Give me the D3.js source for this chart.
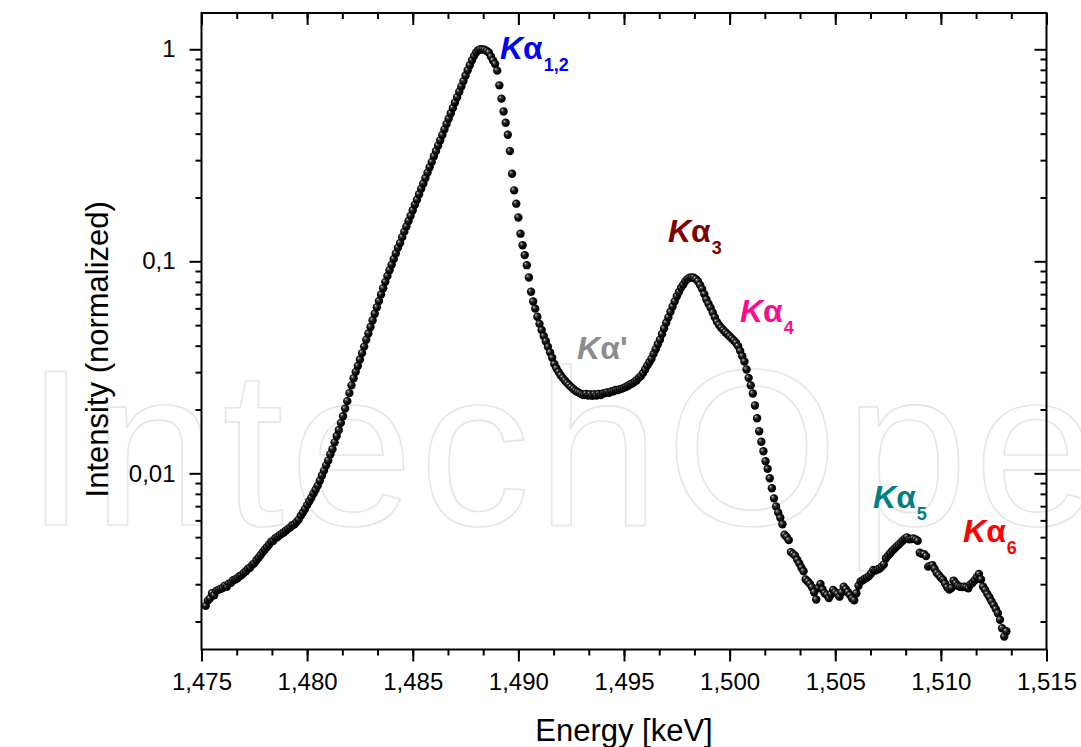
<!DOCTYPE html>
<html>
<head>
<meta charset="utf-8">
<script src="https://cdn.jsdelivr.net/npm/d3@7"></script>
<style>
  html, body { margin: 0; padding: 0; background: #fff; }
  svg { display: block; font-family: "Liberation Sans", Arial, sans-serif; }
</style>
</head>
<body>
<div id="chart"></div>
<script>
// energy in keV, one reading every 0.1 eV
const energy = [
  1.4752, 1.4753, 1.4754, 1.4755, 1.4756, 1.4757, 1.4758, 1.4759, 1.4760, 1.4761,
  1.4762, 1.4763, 1.4764, 1.4765, 1.4766, 1.4767, 1.4768, 1.4769, 1.4770, 1.4771,
  1.4772, 1.4773, 1.4774, 1.4775, 1.4776, 1.4777, 1.4778, 1.4779, 1.4780, 1.4781,
  1.4782, 1.4783, 1.4784, 1.4785, 1.4786, 1.4787, 1.4788, 1.4789, 1.4790, 1.4791,
  1.4792, 1.4793, 1.4794, 1.4795, 1.4796, 1.4797, 1.4798, 1.4799, 1.4800, 1.4801,
  1.4802, 1.4803, 1.4804, 1.4805, 1.4806, 1.4807, 1.4808, 1.4809, 1.4810, 1.4811,
  1.4812, 1.4813, 1.4814, 1.4815, 1.4816, 1.4817, 1.4818, 1.4819, 1.4820, 1.4821,
  1.4822, 1.4823, 1.4824, 1.4825, 1.4826, 1.4827, 1.4828, 1.4829, 1.4830, 1.4831,
  1.4832, 1.4833, 1.4834, 1.4835, 1.4836, 1.4837, 1.4838, 1.4839, 1.4840, 1.4841,
  1.4842, 1.4843, 1.4844, 1.4845, 1.4846, 1.4847, 1.4848, 1.4849, 1.4850, 1.4851,
  1.4852, 1.4853, 1.4854, 1.4855, 1.4856, 1.4857, 1.4858, 1.4859, 1.4860, 1.4861,
  1.4862, 1.4863, 1.4864, 1.4865, 1.4866, 1.4867, 1.4868, 1.4869, 1.4870, 1.4871,
  1.4872, 1.4873, 1.4874, 1.4875, 1.4876, 1.4877, 1.4878, 1.4879, 1.4880, 1.4881,
  1.4882, 1.4883, 1.4884, 1.4885, 1.4886, 1.4887, 1.4888, 1.4889, 1.4890, 1.4891,
  1.4892, 1.4893, 1.4894, 1.4895, 1.4896, 1.4897, 1.4898, 1.4899, 1.4900, 1.4901,
  1.4902, 1.4903, 1.4904, 1.4905, 1.4906, 1.4907, 1.4908, 1.4909, 1.4910, 1.4911,
  1.4912, 1.4913, 1.4914, 1.4915, 1.4916, 1.4917, 1.4918, 1.4919, 1.4920, 1.4921,
  1.4922, 1.4923, 1.4924, 1.4925, 1.4926, 1.4927, 1.4928, 1.4929, 1.4930, 1.4931,
  1.4932, 1.4933, 1.4934, 1.4935, 1.4936, 1.4937, 1.4938, 1.4939, 1.4940, 1.4941,
  1.4942, 1.4943, 1.4944, 1.4945, 1.4946, 1.4947, 1.4948, 1.4949, 1.4950, 1.4951,
  1.4952, 1.4953, 1.4954, 1.4955, 1.4956, 1.4957, 1.4958, 1.4959, 1.4960, 1.4961,
  1.4962, 1.4963, 1.4964, 1.4965, 1.4966, 1.4967, 1.4968, 1.4969, 1.4970, 1.4971,
  1.4972, 1.4973, 1.4974, 1.4975, 1.4976, 1.4977, 1.4978, 1.4979, 1.4980, 1.4981,
  1.4982, 1.4983, 1.4984, 1.4985, 1.4986, 1.4987, 1.4988, 1.4989, 1.4990, 1.4991,
  1.4992, 1.4993, 1.4994, 1.4995, 1.4996, 1.4997, 1.4998, 1.4999, 1.5000, 1.5001,
  1.5002, 1.5003, 1.5004, 1.5005, 1.5006, 1.5007, 1.5008, 1.5009, 1.5010, 1.5011,
  1.5012, 1.5013, 1.5014, 1.5015, 1.5016, 1.5017, 1.5018, 1.5019, 1.5020, 1.5021,
  1.5022, 1.5023, 1.5024, 1.5025, 1.5026, 1.5027, 1.5028, 1.5029, 1.5030, 1.5031,
  1.5032, 1.5033, 1.5034, 1.5035, 1.5036, 1.5037, 1.5038, 1.5039, 1.5040, 1.5041,
  1.5042, 1.5043, 1.5044, 1.5045, 1.5046, 1.5047, 1.5048, 1.5049, 1.5050, 1.5051,
  1.5052, 1.5053, 1.5054, 1.5055, 1.5056, 1.5057, 1.5058, 1.5059, 1.5060, 1.5061,
  1.5062, 1.5063, 1.5064, 1.5065, 1.5066, 1.5067, 1.5068, 1.5069, 1.5070, 1.5071,
  1.5072, 1.5073, 1.5074, 1.5075, 1.5076, 1.5077, 1.5078, 1.5079, 1.5080, 1.5081,
  1.5082, 1.5083, 1.5084, 1.5085, 1.5086, 1.5087, 1.5088, 1.5089, 1.5090, 1.5091,
  1.5092, 1.5093, 1.5094, 1.5095, 1.5096, 1.5097, 1.5098, 1.5099, 1.5100, 1.5101,
  1.5102, 1.5103, 1.5104, 1.5105, 1.5106, 1.5107, 1.5108, 1.5109, 1.5110, 1.5111,
  1.5112, 1.5113, 1.5114, 1.5115, 1.5116, 1.5117, 1.5118, 1.5119, 1.5120, 1.5121,
  1.5122, 1.5123, 1.5124, 1.5125, 1.5126, 1.5127, 1.5128, 1.5129, 1.5130, 1.5131
];

// normalized intensity, same order as energy
const intensity = [
  0.00237, 0.00251, 0.00257, 0.00272, 0.00266, 0.00279, 0.00282, 0.00285, 0.00288, 0.00295,
  0.00292, 0.00302, 0.00305, 0.00313, 0.00316, 0.00320, 0.00327, 0.00331, 0.00339, 0.00345,
  0.00355, 0.00359, 0.00370, 0.00376, 0.00389, 0.00400, 0.00412, 0.00425, 0.00437, 0.00449,
  0.00462, 0.00476, 0.00481, 0.00495, 0.00501, 0.00511, 0.00519, 0.00527, 0.00537, 0.00547,
  0.00556, 0.00569, 0.00575, 0.00589, 0.00605, 0.00631, 0.00653, 0.00679, 0.00708, 0.00738,
  0.00767, 0.00804, 0.00836, 0.00875, 0.00923, 0.00977, 0.0103, 0.0109, 0.0115, 0.0123,
  0.0130, 0.0140, 0.0150, 0.0160, 0.0173, 0.0186, 0.0202, 0.0219, 0.0239, 0.0260,
  0.0281, 0.0301, 0.0321, 0.0344, 0.0369, 0.0396, 0.0427, 0.0457, 0.0490, 0.0527,
  0.0566, 0.0607, 0.0650, 0.0697, 0.0746, 0.0800, 0.0853, 0.0908, 0.0964, 0.1026,
  0.109, 0.116, 0.122, 0.130, 0.138, 0.146, 0.155, 0.164, 0.174, 0.185,
  0.195, 0.207, 0.220, 0.233, 0.247, 0.262, 0.278, 0.294, 0.313, 0.331,
  0.351, 0.372, 0.394, 0.419, 0.444, 0.470, 0.499, 0.528, 0.561, 0.594,
  0.631, 0.668, 0.708, 0.752, 0.796, 0.841, 0.887, 0.929, 0.966, 0.989,
  1.000, 0.998, 0.995, 0.982, 0.966, 0.925, 0.885, 0.853, 0.793, 0.676,
  0.585, 0.509, 0.450, 0.395, 0.331, 0.259, 0.216, 0.187, 0.161, 0.135,
  0.119, 0.107, 0.0959, 0.0839, 0.0719, 0.0646, 0.0598, 0.0548, 0.0507, 0.0474,
  0.0444, 0.0420, 0.0395, 0.0372, 0.0351, 0.0328, 0.0313, 0.0301, 0.0290, 0.0282,
  0.0274, 0.0267, 0.0261, 0.0255, 0.0250, 0.0245, 0.0242, 0.0239, 0.0236, 0.0234,
  0.0237, 0.0233, 0.0236, 0.0232, 0.0236, 0.0233, 0.0237, 0.0234, 0.0238, 0.0239,
  0.0241, 0.0240, 0.0243, 0.0244, 0.0247, 0.0247, 0.0249, 0.0251, 0.0253, 0.0256,
  0.0259, 0.0263, 0.0266, 0.0270, 0.0275, 0.0282, 0.0288, 0.0297, 0.0309, 0.0322,
  0.0334, 0.0347, 0.0366, 0.0385, 0.0406, 0.0427, 0.0454, 0.0482, 0.0513, 0.0544,
  0.0578, 0.0612, 0.0647, 0.0684, 0.0716, 0.0750, 0.0776, 0.0804, 0.0824, 0.0836,
  0.0839, 0.0837, 0.0824, 0.0805, 0.0773, 0.0741, 0.0700, 0.0661, 0.0631, 0.0604,
  0.0573, 0.0545, 0.0518, 0.0501, 0.0486, 0.0474, 0.0463, 0.0453, 0.0443, 0.0433,
  0.0423, 0.0413, 0.0398, 0.0378, 0.0357, 0.0337, 0.0309, 0.0282, 0.0260, 0.0238,
  0.0209, 0.0182, 0.0158, 0.0141, 0.0127, 0.0114, 0.0105, 0.00948, 0.00851, 0.00762,
  0.00698, 0.00653, 0.00617, 0.00575, 0.00513, 0.00501, 0.00484, 0.00425, 0.00417, 0.00409,
  0.00391, 0.00376, 0.00359, 0.00345, 0.00316, 0.00309, 0.00301, 0.00290, 0.00275, 0.00254,
  0.00288, 0.00301, 0.00283, 0.00272, 0.00267, 0.00258, 0.00269, 0.00282, 0.00275, 0.00270,
  0.00262, 0.00275, 0.00292, 0.00284, 0.00275, 0.00267, 0.00257, 0.00252, 0.00272, 0.00295,
  0.00309, 0.00313, 0.00318, 0.00322, 0.00328, 0.00337, 0.00350, 0.00348, 0.00352, 0.00356,
  0.00363, 0.00372, 0.00398, 0.00409, 0.00420, 0.00431, 0.00441, 0.00451, 0.00460, 0.00471,
  0.00482, 0.00492, 0.00499, 0.00488, 0.00490, 0.00493, 0.00488, 0.00481, 0.00422, 0.00417,
  0.00416, 0.00407, 0.00363, 0.00366, 0.00369, 0.00355, 0.00340, 0.00331, 0.00322, 0.00315,
  0.00302, 0.00290, 0.00283, 0.00288, 0.00312, 0.00303, 0.00295, 0.00292, 0.00291, 0.00292,
  0.00290, 0.00287, 0.00299, 0.00305, 0.00313, 0.00324, 0.00335, 0.00316, 0.00292, 0.00282,
  0.00270, 0.00260, 0.00249, 0.00239, 0.00229, 0.00219, 0.00204, 0.00186, 0.00170, 0.00180
];

const xTicks = [1.475, 1.48, 1.485, 1.49, 1.495, 1.5, 1.505, 1.51, 1.515];
const xTickLabels = ["1,475", "1,480", "1,485", "1,490", "1,495", "1,500", "1,505", "1,510", "1,515"];
const yTicks = [0.01, 0.1, 1];
const yTickLabels = ["0,01", "0,1", "1"];

// peak annotations: name, subscript, colour, anchor energy / intensity
const peakNames = ["Kα", "Kα", "Kα", "Kα'", "Kα", "Kα"];
const peakSubs = ["1,2", "3", "4", "", "5", "6"];
const peakColors = ["#0000ff", "#800000", "#ff0a8c", "#8c8c8c", "#008080", "#ff0000"];
const peakEnergy = [1.48913, 1.49708, 1.50049, 1.49278, 1.50679, 1.51105];
const peakIntensity = [0.90, 0.1233, 0.0517, 0.0346, 0.00686, 0.00474];

const W = 1081, H = 747;
const margin = { top: 13, right: 34.5, bottom: 97.5, left: 201.5 };

const svg = d3.select("#chart").append("svg")
  .attr("width", W).attr("height", H);

const defs = svg.append("defs");
const grad = defs.append("radialGradient")
  .attr("id", "ball")
  .attr("cx", "45%").attr("cy", "45%").attr("r", "55%")
  .attr("fx", "32%").attr("fy", "30%");
grad.append("stop").attr("offset", "0%").attr("stop-color", "#d8d8d8");
grad.append("stop").attr("offset", "22%").attr("stop-color", "#555");
grad.append("stop").attr("offset", "55%").attr("stop-color", "#0c0c0c");
grad.append("stop").attr("offset", "100%").attr("stop-color", "#000");

const x = d3.scaleLinear()
  .domain([1.475, 1.515])
  .range([margin.left, W - margin.right]);

const y = d3.scaleLog()
  .domain([0.001476, 1.483])
  .range([H - margin.bottom, margin.top]);

const x0 = margin.left, x1 = W - margin.right;
const y0 = H - margin.bottom, y1 = margin.top;

// faint watermark behind the plot
svg.append("text")
  .attr("x", 25).attr("y", 525)
  .attr("font-size", 222)
  .attr("letter-spacing", 6)
  .attr("fill", "none")
  .attr("stroke", "#e6e6e6")
  .attr("stroke-width", 1.6)
  .text("IntechOpen");

// data points
const points = energy.map((e, i) => ({ e, v: intensity[i] }));
svg.append("g")
  .selectAll("circle")
  .data(points)
  .join("circle")
  .attr("cx", d => x(d.e))
  .attr("cy", d => y(d.v))
  .attr("r", 4.2)
  .attr("fill", "url(#ball)");

// ticks
const minorX = d3.range(0, 25).map(k => 1.475 + k * 0.005 / 3).filter(v => v < 1.5151);
const minorY = [];
[0.001, 0.01, 0.1, 1].forEach(dec => {
  for (let k = 2; k <= 9; k++) {
    const v = dec * k;
    if (v > 0.001476 && v < 1.483) minorY.push(v);
  }
});

function styleAxis(g) {
  g.select(".domain").remove();
  g.selectAll("line").attr("stroke", "#000").attr("stroke-width", 2);
  g.selectAll("text").attr("fill", "#000").attr("font-size", 24)
    .attr("font-family", "'Liberation Sans', Arial, sans-serif");
}

svg.append("g").attr("transform", `translate(0,${y0})`)
  .call(d3.axisBottom(x).tickValues(minorX).tickFormat("").tickSize(6).tickSizeOuter(0))
  .call(styleAxis);
svg.append("g").attr("transform", `translate(0,${y0})`)
  .call(d3.axisBottom(x).tickValues(xTicks).tickFormat((d, i) => xTickLabels[i])
    .tickSize(12).tickSizeOuter(0).tickPadding(11))
  .call(styleAxis);

svg.append("g").attr("transform", `translate(0,${y1})`)
  .call(d3.axisTop(x).tickValues(minorX).tickFormat("").tickSize(-6).tickSizeOuter(0))
  .call(styleAxis);
svg.append("g").attr("transform", `translate(0,${y1})`)
  .call(d3.axisTop(x).tickValues(xTicks).tickFormat("").tickSize(-12).tickSizeOuter(0))
  .call(styleAxis);

svg.append("g").attr("transform", `translate(${x0},0)`)
  .call(d3.axisLeft(y).tickValues(minorY).tickFormat("").tickSize(6).tickSizeOuter(0))
  .call(styleAxis);
svg.append("g").attr("transform", `translate(${x0},0)`)
  .call(d3.axisLeft(y).tickValues(yTicks).tickFormat((d, i) => yTickLabels[i])
    .tickSize(12).tickSizeOuter(0).tickPadding(14))
  .call(styleAxis);

svg.append("g").attr("transform", `translate(${x1},0)`)
  .call(d3.axisRight(y).tickValues(minorY).tickFormat("").tickSize(-6).tickSizeOuter(0))
  .call(styleAxis);
svg.append("g").attr("transform", `translate(${x1},0)`)
  .call(d3.axisRight(y).tickValues(yTicks).tickFormat("").tickSize(-12).tickSizeOuter(0))
  .call(styleAxis);

// frame
svg.append("rect")
  .attr("x", x0).attr("y", y1)
  .attr("width", x1 - x0).attr("height", y0 - y1)
  .attr("fill", "none").attr("stroke", "#000").attr("stroke-width", 2);

// axis titles
svg.append("text")
  .attr("x", (x0 + x1) / 2).attr("y", 741)
  .attr("text-anchor", "middle")
  .attr("font-size", 31)
  .text("Energy [keV]");

svg.append("text")
  .attr("transform", `translate(108,${(y0 + y1) / 2 + 18}) rotate(-90)`)
  .attr("text-anchor", "middle")
  .attr("font-size", 31)
  .text("Intensity (normalized)");

// peak labels
peakNames.forEach((name, i) => {
  const t = svg.append("text")
    .attr("x", x(peakEnergy[i]))
    .attr("y", y(peakIntensity[i]))
    .attr("fill", peakColors[i])
    .attr("font-weight", "bold")
    .attr("font-size", 32);
  t.append("tspan").attr("font-style", "italic").text(name.charAt(0));
  t.append("tspan").text(name.slice(1));
  if (peakSubs[i]) {
    t.append("tspan").attr("dy", 12).attr("dx", 1).attr("font-size", 18).text(peakSubs[i]);
  }
});
</script>
</body>
</html>
